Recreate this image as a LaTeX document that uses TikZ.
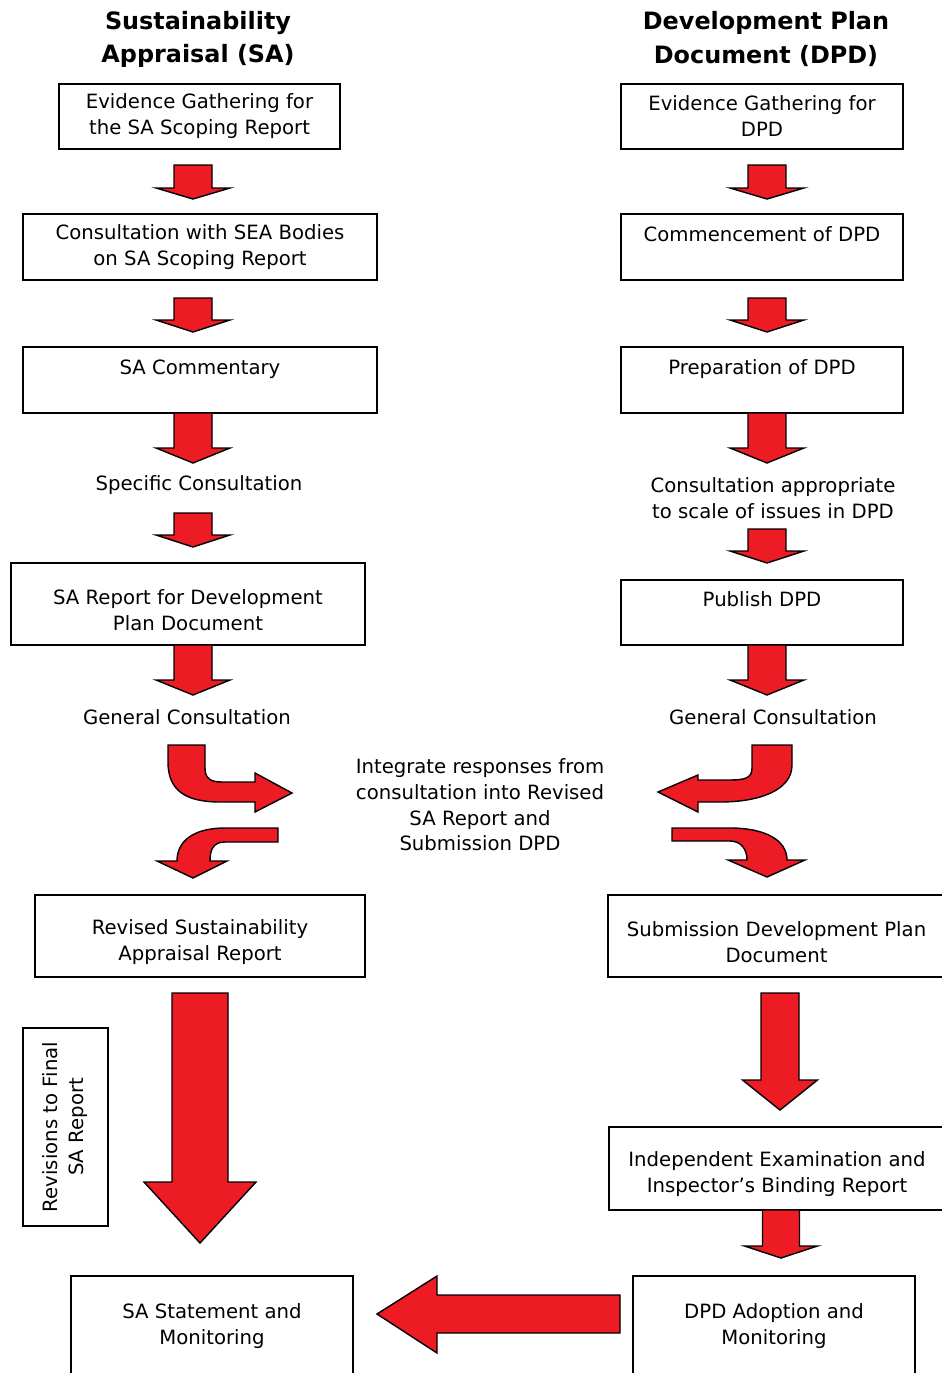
\documentclass[tikz,border=0pt]{standalone}
\usepackage{fontspec}
\setmainfont{DejaVu Sans}
\definecolor{arrowred}{HTML}{ED1C24}
\tikzset{
  box/.style={draw, line width=1.1pt, align=center, inner sep=0pt,
    font=\fontsize{11.2}{14.8}\selectfont},
  plain/.style={align=center, inner sep=0pt, font=\fontsize{11.2}{14.8}\selectfont},
  heading/.style={align=center, inner sep=0pt, font=\fontsize{13.6}{18.8}\selectfont\bfseries},
  blockarrow/.style={fill=arrowred, draw=black, line width=0.8pt, line join=miter}
}
% straight arrow pointing down: centre x, top, neck, tip, half shaft, half head
\newcommand{\downblock}[6]{%
  \draw[blockarrow] ({#1-#5},#2) -- ({#1+#5},#2) -- ({#1+#5},#3) -- ({#1+#6},#3)
    -- (#1,#4) -- ({#1-#6},#3) -- ({#1-#5},#3) -- cycle;}
% taller first line, pushes the text a little lower in its box
\newcommand{\lowtxt}{\rule{0pt}{15pt}}
\begin{document}
\begin{tikzpicture}[x=0.02cm, y=-0.02cm]
            \useasboundingbox (0,0) rectangle (942,1373);

            % Headings
            \node[heading] (saHead) at (198,39) {Sustainability\\Appraisal (SA)};
            \node[heading] (dpdHead) at (766,39) {Development Plan\\Document (DPD)};

            % Sustainability Appraisal column
            \node[box, minimum width=5.62cm, minimum height=1.30cm] (saEvidence) at (199.5,116.5) {Evidence Gathering for\\the SA Scoping Report};
            \node[box, minimum width=7.08cm, minimum height=1.32cm] (saSEA) at (200,247) {Consultation with SEA Bodies\\on SA Scoping Report};
            \node[box, minimum width=7.08cm, minimum height=1.32cm] (saComm) at (200,380) {SA Commentary\\\mbox{}};
            \node[plain] (saSpecific) at (199,485) {Specific Consultation};
            \node[box, minimum width=7.08cm, minimum height=1.64cm] (saReport) at (188,604) {\lowtxt SA Report for Development\\Plan Document};
            \node[plain] (saGeneral) at (187,717) {General Consultation};
            \node[box, minimum width=6.60cm, minimum height=1.64cm] (saRevised) at (200,936) {\lowtxt Revised Sustainability\\Appraisal Report};
            \node[box, rotate=90, minimum width=3.96cm, minimum height=1.70cm] (saRevisions) at (65.5,1127) {Revisions to Final\\SA Report};
            \node[box, minimum width=5.64cm, minimum height=2.00cm] (saStatement) at (212,1326) {SA Statement and\\Monitoring};

            % Development Plan Document column
            \node[box, minimum width=5.64cm, minimum height=1.30cm] (dpdEvidence) at (762,116.5) {Evidence Gathering for\\DPD};
            \node[box, minimum width=5.64cm, minimum height=1.32cm] (dpdStart) at (762,247) {Commencement of DPD\\\mbox{}};
            \node[box, minimum width=5.64cm, minimum height=1.32cm] (dpdPrep) at (762,380) {Preparation of DPD\\\mbox{}};
            \node[plain] (dpdScale) at (773,498) {Consultation appropriate\\to scale of issues in DPD};
            \node[box, minimum width=5.64cm, minimum height=1.30cm] (dpdPublish) at (762,612.5) {Publish DPD\\\mbox{}};
            \node[plain] (dpdGeneral) at (773,717) {General Consultation};
            \node[box, minimum width=6.74cm, minimum height=1.64cm] (dpdSubmit) at (776.5,936) {\lowtxt Submission Development Plan\\Document};
            \node[box, minimum width=6.72cm, minimum height=1.66cm] (dpdExam) at (777,1168.5) {\lowtxt Independent Examination and\\Inspector's Binding Report};
            \node[box, minimum width=5.64cm, minimum height=2.00cm] (dpdAdopt) at (774,1326) {DPD Adoption and\\Monitoring};

            % Middle
            \node[plain, font=\fontsize{11.2}{14.6}\selectfont] (integrate) at (480,805) {Integrate responses from\\consultation into Revised\\SA Report and\\Submission DPD};

            % Down arrows, left
            \downblock{193}{165}{188}{199}{19}{37}
            \downblock{193}{298}{320}{332}{19}{37}
            \downblock{193}{413}{448}{463}{19}{37}
            \downblock{193}{513}{535}{547}{19}{37}
            \downblock{193}{645}{680}{695}{19}{37}
            \downblock{200}{993}{1182}{1243}{28}{56}

            % Down arrows, right
            \downblock{767}{165}{188}{199}{19}{37}
            \downblock{767}{298}{320}{332}{19}{37}
            \downblock{767}{413}{448}{463}{19}{37}
            \downblock{767}{529}{551}{563}{19}{37}
            \downblock{767}{645}{680}{695}{19}{37}
            \downblock{780}{993}{1080}{1110}{19}{37.5}
            \downblock{781}{1210}{1246}{1258}{18.5}{36.5}

            % Bent arrows round the middle text
            \draw[blockarrow] (168,745) -- (205,745) -- (205,768)
              .. controls (205,778) and (210,782) .. (222,782) -- (255,782) -- (255,773)
              -- (292,793) -- (255,812) -- (255,802) -- (220,802)
              .. controls (185,802) and (168,790) .. (168,762) -- cycle;
            \draw[blockarrow] (278,828) -- (225,828)
              .. controls (195,828) and (177,840) .. (177,861) -- (157,861)
              -- (193,878) -- (227,861) -- (210,861)
              .. controls (210,850) and (213,842) .. (225,842) -- (278,842) -- cycle;
            \draw[blockarrow] (752,745) -- (792,745) -- (792,765)
              .. controls (792,790) and (760,802) .. (720,802) -- (698,802) -- (698,812)
              -- (658,792) -- (698,775) -- (698,780) -- (730,780)
              .. controls (745,780) and (752,778) .. (752,768) -- cycle;
            \draw[blockarrow] (672,828) -- (730,828)
              .. controls (765,828) and (787,840) .. (787,860) -- (805,860)
              -- (767,877) -- (728,860) -- (747,860)
              .. controls (747,848) and (740,841) .. (730,841) -- (672,841) -- cycle;

            % Arrow from adoption back to statement
            \draw[blockarrow] (620,1295) -- (437,1295) -- (437,1276) -- (377,1314)
              -- (437,1353) -- (437,1333) -- (620,1333) -- cycle;
        \end{tikzpicture}
\end{document}
